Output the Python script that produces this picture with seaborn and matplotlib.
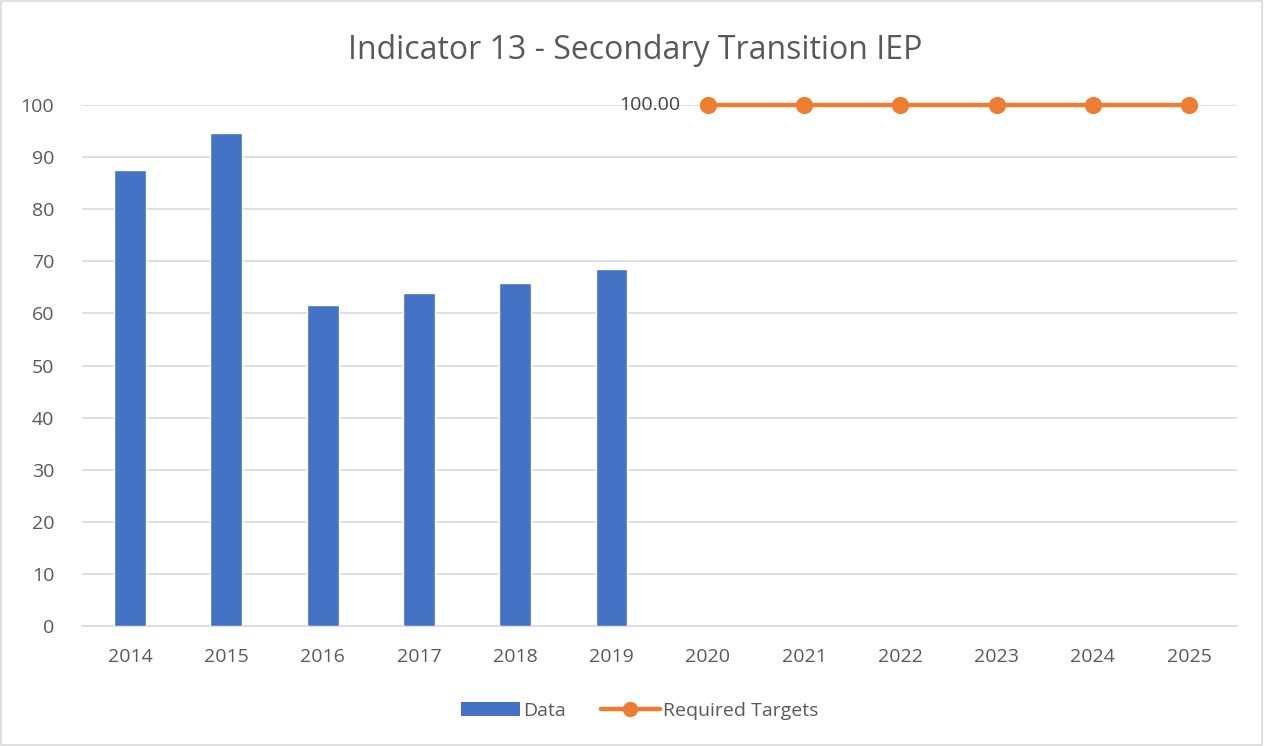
import numpy as np
import pandas as pd
import matplotlib
matplotlib.use('Agg')
import matplotlib.pyplot as plt
from matplotlib.patches import Rectangle, Patch
from matplotlib.lines import Line2D
import seaborn as sns

# veriler
years = ['2014', '2015', '2016', '2017', '2018', '2019',
         '2020', '2021', '2022', '2023', '2024', '2025']
data_vals = [87.6, 94.75, 61.7, 63.85, 65.85, 68.5,
             np.nan, np.nan, np.nan, np.nan, np.nan, np.nan]
target_vals = [np.nan, np.nan, np.nan, np.nan, np.nan, np.nan,
               100, 100, 100, 100, 100, 100]

BAR_COLOR = '#4472C4'
LINE_COLOR = '#ED7D31'
TEXT_COLOR = '#595959'
GRID_COLOR = '#D9D9D9'

df = pd.DataFrame({'Year': years, 'Data': data_vals, 'Required Targets': target_vals})

sns.set_theme(style='white')
plt.rcParams['font.family'] = ['Open Sans', 'DejaVu Sans']

fig = plt.figure(figsize=(12.65, 7.46), dpi=100)
ax = fig.add_axes([0.0648, 0.161, 0.9132, 0.698])

sns.barplot(data=df, x='Year', y='Data', order=years, color=BAR_COLOR,
            width=0.33, saturation=1, ax=ax, zorder=3)
n_lines = len(ax.lines)
n_coll = len(ax.collections)
sns.pointplot(data=df, x='Year', y='Required Targets', order=years,
              color=LINE_COLOR, errorbar=None, markers='o',
              markersize=10, linewidth=3.2, ax=ax, zorder=4)
# 100 cizgisi eksen sinirinda kesilmesin
for art in ax.lines[n_lines:] + ax.collections[n_coll:]:
    art.set_clip_on(False)

# ilk hedef noktasina etiket
first_idx = next(i for i, v in enumerate(target_vals) if not np.isnan(v))
ax.annotate(f'{target_vals[first_idx]:.2f}', xy=(first_idx, target_vals[first_idx]),
            xytext=(-20, 0), textcoords='offset points', ha='right', va='center',
            fontsize=14, color='#404040')

ax.set_ylim(0, 100)
ax.set_xlim(-0.5, len(years) - 0.5)
ax.set_yticks(range(0, 101, 10))
ax.yaxis.grid(True, color=GRID_COLOR, linewidth=1.2, zorder=0)
ax.set_axisbelow(True)
for s in ['top', 'right', 'left']:
    ax.spines[s].set_visible(False)
ax.spines['bottom'].set_color(GRID_COLOR)
ax.spines['bottom'].set_linewidth(1.2)
ax.tick_params(axis='both', length=0, labelsize=14, labelcolor=TEXT_COLOR)
ax.tick_params(axis='x', pad=16)
ax.tick_params(axis='y', pad=20)
ax.set_xlabel('')
ax.set_ylabel('')

fig.text(0.502, 0.932, 'Indicator 13 - Secondary Transition IEP', ha='center', va='center',
         fontsize=23, color=TEXT_COLOR)

handles = [Patch(facecolor=BAR_COLOR, edgecolor='none'),
           Line2D([0], [0], color=LINE_COLOR, lw=3.2, marker='o', markersize=10)]
fig.legend(handles, ['Data', 'Required Targets'], loc='center', bbox_to_anchor=(0.506, 0.047),
           ncol=2, frameon=False, fontsize=14, labelcolor=TEXT_COLOR,
           handlelength=3.0, handletextpad=0.2, columnspacing=1.8)

fig.patches.append(Rectangle((0.001, 0.002), 0.997, 0.996, transform=fig.transFigure,
                             fill=False, edgecolor=GRID_COLOR, linewidth=1.2))

fig.savefig('out.png', dpi=100)
plt.close()
